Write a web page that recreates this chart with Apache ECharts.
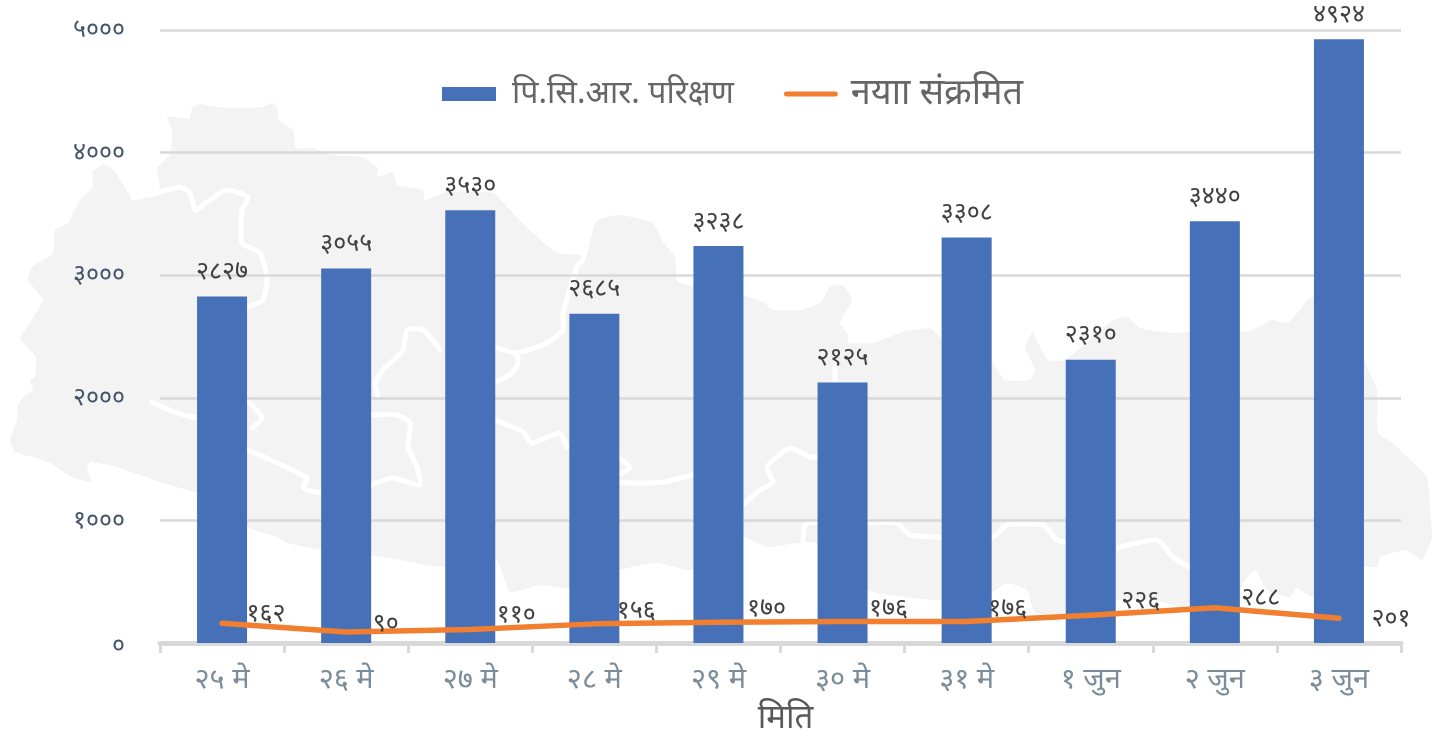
<!DOCTYPE html>
<html><head><meta charset="utf-8">
<style>html,body{margin:0;padding:0;background:#fff}#c{width:1451px;height:736px}</style>
<script src="https://cdn.jsdelivr.net/npm/echarts@6/dist/echarts.min.js"></script>
</head><body><div id="c"></div>
<script>
const categories = ['२५ मे','२६ मे','२७ मे','२८ मे','२९ मे','३० मे','३१ मे','१ जुन','२ जुन','३ जुन'];
const pcrTests = [2827,3055,3530,2685,3238,2125,3308,2310,3440,4924];
const newInfected = [162,90,110,156,170,176,176,226,288,201];
const pcrName = 'पि.सि.आर. परिक्षण';
const infectedName = 'नयाा संक्रमित';
const xName = 'मिति';
const digits = '०१२३४५६७८९';
const np = n => String(n).replace(/\d/g, d => digits[d]);
const font = '"Noto Sans","Noto Sans Devanagari",sans-serif';

// decorative background: outline of Nepal and its internal boundaries
const mapOutline = [[167,117],[190,118],[192,108],[200,104],[217,107],[240,108],[263,107],[273,103],[278,110],[278,120],[293,130],[296,148],[313,148],[332,155],[362,157],[378,168],[377,177],[393,172],[397,185],[423,190],[425,200],[447,192],[493,193],[510,210],[533,233],[557,253],[580,255],[585,260],[593,230],[597,220],[620,215],[653,223],[663,242],[675,257],[678,282],[743,295],[763,302],[773,310],[800,310],[820,303],[830,287],[842,285],[852,300],[840,323],[848,335],[848,343],[873,343],[903,332],[930,328],[940,337],[992,363],[1005,380],[1030,380],[1035,370],[1025,347],[1033,332],[1038,343],[1048,360],[1065,360],[1113,320],[1127,317],[1140,328],[1170,333],[1188,332],[1240,332],[1253,330],[1272,320],[1287,323],[1300,310],[1307,300],[1340,290],[1367,367],[1377,390],[1378,433],[1393,443],[1407,457],[1427,477],[1430,507],[1432,537],[1422,560],[1407,550],[1380,557],[1377,567],[1365,567],[1313,597],[1297,588],[1290,597],[1267,590],[1255,570],[1243,583],[1239,593],[1189,610],[1163,602],[1117,600],[1066,614],[1035,613],[1027,590],[1007,583],[992,592],[940,600],[866,590],[818,543],[797,543],[767,547],[743,537],[692,570],[657,563],[618,570],[569,588],[540,585],[510,592],[495,557],[443,567],[400,560],[370,555],[322,550],[287,543],[277,537],[247,527],[197,493],[187,490],[163,483],[140,475],[117,467],[90,462],[87,470],[92,482],[72,477],[50,463],[33,457],[15,452],[10,440],[17,420],[17,407],[23,397],[33,390],[30,380],[35,377],[36,357],[20,338],[27,327],[43,300],[28,280],[32,267],[53,253],[55,230],[68,223],[80,200],[93,187],[92,173],[103,164],[115,172],[133,198],[157,193],[160,185],[157,168],[170,155],[172,130]];
const mapBorders = [
 [[133,198],[157,193],[180,187],[190,193],[195,210],[207,202],[227,190],[248,197],[242,210],[242,243],[260,253],[267,280],[263,300],[248,307]],
 [[152,402],[177,413],[197,418]],
 [[247,400],[262,418],[252,428]],
 [[248,450],[307,478],[303,488],[322,493],[370,485],[393,478],[420,485],[417,467],[408,447],[410,423],[397,415],[370,415]],
 [[440,350],[423,330],[407,330],[403,350],[383,370],[375,383],[378,395]],
 [[495,347],[517,353],[547,343],[563,330],[563,313],[577,267],[583,260]],
 [[517,353],[518,363],[510,375],[495,382]],
 [[495,420],[523,432],[532,443],[560,433],[567,447]],
 [[618,482],[637,483],[663,482],[692,475]],
 [[618,457],[630,468],[618,475]],
 [[743,505],[760,490],[773,482],[767,467],[790,448],[810,457],[818,457]],
 [[835,367],[835,383]],
 [[803,543],[805,525],[818,522]],
 [[866,523],[897,523],[910,535],[940,537],[992,538],[1007,525],[1043,525],[1057,540],[1066,542]],
 [[1117,548],[1157,540],[1173,557],[1189,567]]
];
const graphics = [{type:'polygon',z:-10,silent:true,shape:{points:mapOutline,smooth:0.15},style:{fill:'#f3f3f3'}}]
 .concat(mapBorders.map(p=>({type:'polyline',z:-9,silent:true,shape:{points:p,smooth:0.2},style:{stroke:'#ffffff',lineWidth:5,fill:null,lineCap:'round',lineJoin:'round'}})));

// label nudges for the line series, in the order of the categories
const lineLabelOffsets = [[0,-9],[2,-8],[2,-15],[-2,-13],[4,-13],[2,-13],[-3,-13],[6,-14],[2,-10],[8,1]];

const chart = echarts.init(document.getElementById('c'));
chart.setOption({
  animation:false,
  backgroundColor:'#ffffff',
  textStyle:{fontFamily:font},
  graphic:graphics,
  grid:{left:160,right:50,top:30,bottom:93,outerBoundsMode:'none'},
  legend:{left:437,top:71,itemWidth:54,itemHeight:14,itemGap:50,
    textStyle:{fontSize:32,color:'#666666',fontFamily:font},
    data:[{name:pcrName,icon:'rect',textStyle:{padding:[0,0,0,11]}},
          {name:infectedName,icon:'path://M2.5 0H52.5A2.5 2.5 0 0 1 52.5 5H2.5A2.5 2.5 0 0 1 2.5 0Z',textStyle:{fontSize:36,padding:[0,0,0,8]}}]},
  xAxis:{type:'category',data:categories,
    axisLine:{lineStyle:{color:'#d9d9d9',width:5}},
    axisTick:{show:true,length:10,lineStyle:{color:'#d9d9d9',width:3}},
    axisLabel:{color:'#7b8c9b',fontSize:29,margin:22,fontFamily:font},
    name:xName,nameLocation:'middle',nameGap:59,
    nameTextStyle:{color:'#595959',fontSize:33,fontFamily:font,padding:[0,0,0,10]}},
  yAxis:{type:'value',min:0,max:5000,interval:1000,
    axisLine:{show:false},axisTick:{show:false},
    splitLine:{lineStyle:{color:'#d9d9d9',width:2.5}},
    axisLabel:{margin:35,fontSize:25,color:'#44546a',fontFamily:font,
      formatter:v=>v===0?'{z|'+np(v)+'}':np(v),
      rich:{z:{fontSize:25,color:'#44546a',padding:[6,0,0,0]}}}},
  series:[
   {name:pcrName,type:'bar',data:pcrTests,barWidth:50,z:2,
    itemStyle:{color:'#4670b8'},
    label:{show:true,position:'top',distance:12,fontSize:25,color:'#404040',formatter:p=>np(p.value)}},
   {name:infectedName,type:'line',z:3,showSymbol:true,symbol:'circle',symbolSize:1,
    data:newInfected.map((v,i)=>({value:v,label:{offset:lineLabelOffsets[i]}})),
    lineStyle:{color:'#f17f2f',width:5.5,cap:'round',join:'round'},
    itemStyle:{color:'#f17f2f'},
    label:{show:true,position:'right',distance:24,fontSize:25,color:'#404040',formatter:p=>np(p.value)}}
  ]
});
</script></body></html>
